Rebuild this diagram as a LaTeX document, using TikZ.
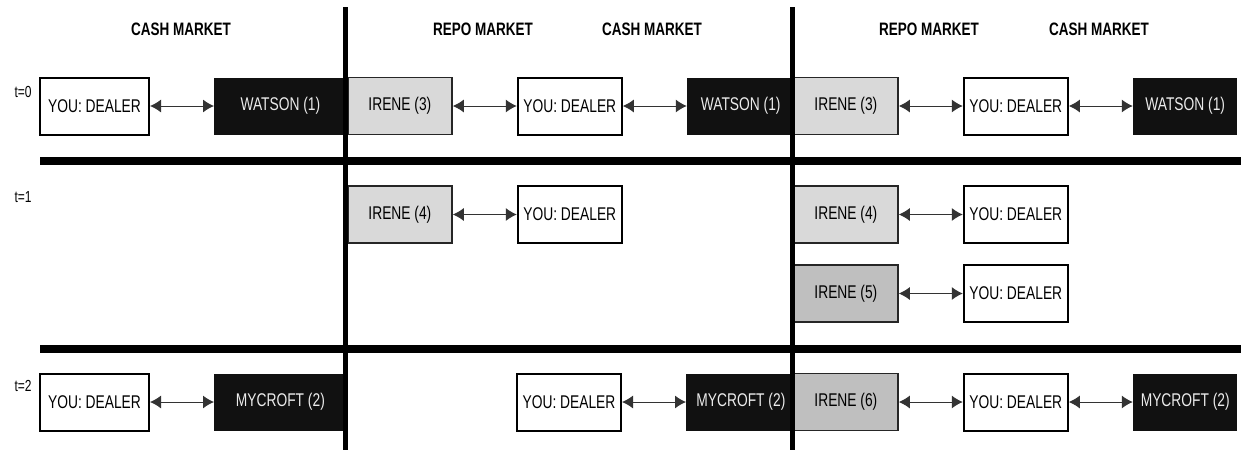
\documentclass[tikz,border=0pt]{standalone}
\usepackage{fontspec}
\setmainfont{Liberation Sans}[FakeStretch=0.75]
\usepackage{tikz}
\usetikzlibrary{positioning,arrows.meta}
\definecolor{ireneA}{HTML}{D9D9D9}
\definecolor{ireneB}{HTML}{BFBFBF}
\definecolor{nearblack}{HTML}{111111}
\tikzset{
	x=0.5pt, y=-0.5pt, % one unit is one pixel of the reference
	>={Latex[length=5.5pt,width=6.5pt]}, % filled arrow heads
	node distance=32pt, % gap between two boxes of a row
	every node/.style={font=\fontsize{9.2pt}{10pt}\selectfont, inner sep=0pt},
	box/.style={rectangle, minimum width=52pt, minimum height=28.5pt},
	dealer/.style={box, draw=black, line width=1pt, fill=white}, % the dealer
	repo/.style={box, draw=black!85, line width=0.9pt, fill=ireneA}, % repo partner
	repodark/.style={repo, fill=ireneB}, % later repo partner
	client/.style={box, fill=nearblack, text=white!92!black}, % cash counterparty
	trade/.style={<->, line width=0.5pt, draw=black!80}, % connector
	market/.style={font=\bfseries\fontsize{9pt}{10pt}\selectfont},
	tlabel/.style={anchor=east, font=\fontsize{8pt}{9pt}\selectfont},
	divider/.style={line width=2.5pt},
	rowline/.style={line width=4pt},
}
\begin{document}
\begin{tikzpicture}
	\useasboundingbox (0,0) rectangle (1241,450);
	% headers
	\node[market] (h1) at (181,29) {CASH MARKET};
	\node[market] (h2) at (483,29) {REPO MARKET};
	\node[market] (h3) at (652,29) {CASH MARKET};
	\node[market] (h4) at (929,29) {REPO MARKET};
	\node[market] (h5) at (1099,29) {CASH MARKET};
	% time labels
	\node[tlabel] (t0) at (32,92) {t=0};
	\node[tlabel] (t1) at (32,197) {t=1};
	\node[tlabel] (t2) at (32,386) {t=2};

	% t=0
	\node[dealer, minimum width=54.5pt] (d0a) at (94.5,106) {YOU: DEALER};
	\node[client, minimum width=66pt, right=of d0a] (w0a) {WATSON (1)};
	\node[repo, anchor=west] (i0b) at (347,106) {IRENE (3)};
	\node[dealer, right=of i0b] (d0b) {YOU: DEALER};
	\node[client, minimum width=53.5pt, right=of d0b] (w0b) {WATSON (1)};
	\node[repo, anchor=west] (i0c) at (793,106) {IRENE (3)};
	\node[dealer, right=of i0c] (d0c) {YOU: DEALER};
	\node[client, right=of d0c] (w0c) {WATSON (1)};

	% t=1
	\node[repo, anchor=west] (i1b) at (347,214.5) {IRENE (4)};
	\node[dealer, right=of i1b] (d1b) {YOU: DEALER};
	\node[repo, anchor=west] (i1c) at (793,214.5) {IRENE (4)};
	\node[dealer, right=of i1c] (d1c) {YOU: DEALER};
	\node[repodark, anchor=west] (j1c) at (793,293.5) {IRENE (5)};
	\node[dealer, right=of j1c] (e1c) {YOU: DEALER};

	% t=2
	\node[dealer, minimum width=54.5pt] (d2a) at (94.5,402) {YOU: DEALER};
	\node[client, minimum width=66pt, right=of d2a] (m2a) {MYCROFT (2)};
	\node[dealer, anchor=west] (d2b) at (516,402) {YOU: DEALER};
	\node[client, minimum width=54.5pt, right=of d2b] (m2b) {MYCROFT (2)};
	\node[repodark, anchor=west] (i2c) at (793,402) {IRENE (6)};
	\node[dealer, right=of i2c] (d2c) {YOU: DEALER};
	\node[client, right=of d2c] (m2c) {MYCROFT (2)};

	\draw[trade] (d0a) -- (w0a);
	\draw[trade] (i0b) -- (d0b);
	\draw[trade] (d0b) -- (w0b);
	\draw[trade] (i0c) -- (d0c);
	\draw[trade] (d0c) -- (w0c);
	\draw[trade] (i1b) -- (d1b);
	\draw[trade] (i1c) -- (d1c);
	\draw[trade] (j1c) -- (e1c);
	\draw[trade] (d2a) -- (m2a);
	\draw[trade] (d2b) -- (m2b);
	\draw[trade] (i2c) -- (d2c);
	\draw[trade] (d2c) -- (m2c);

	% dividers
	\coordinate (r1a) at (40,161);
	\coordinate (r1b) at (1241,161);
	\coordinate (r2a) at (40,349);
	\coordinate (r2b) at (1241,349);
	\coordinate (v1a) at (345.5,7);
	\coordinate (v1b) at (345.5,450);
	\coordinate (v2a) at (792,7);
	\coordinate (v2b) at (792,450);
	\draw[rowline] (r1a) -- (r1b);
	\draw[rowline] (r2a) -- (r2b);
	\draw[divider] (v1a) -- (v1b);
	\draw[divider] (v2a) -- (v2b);
\end{tikzpicture}
\end{document}
